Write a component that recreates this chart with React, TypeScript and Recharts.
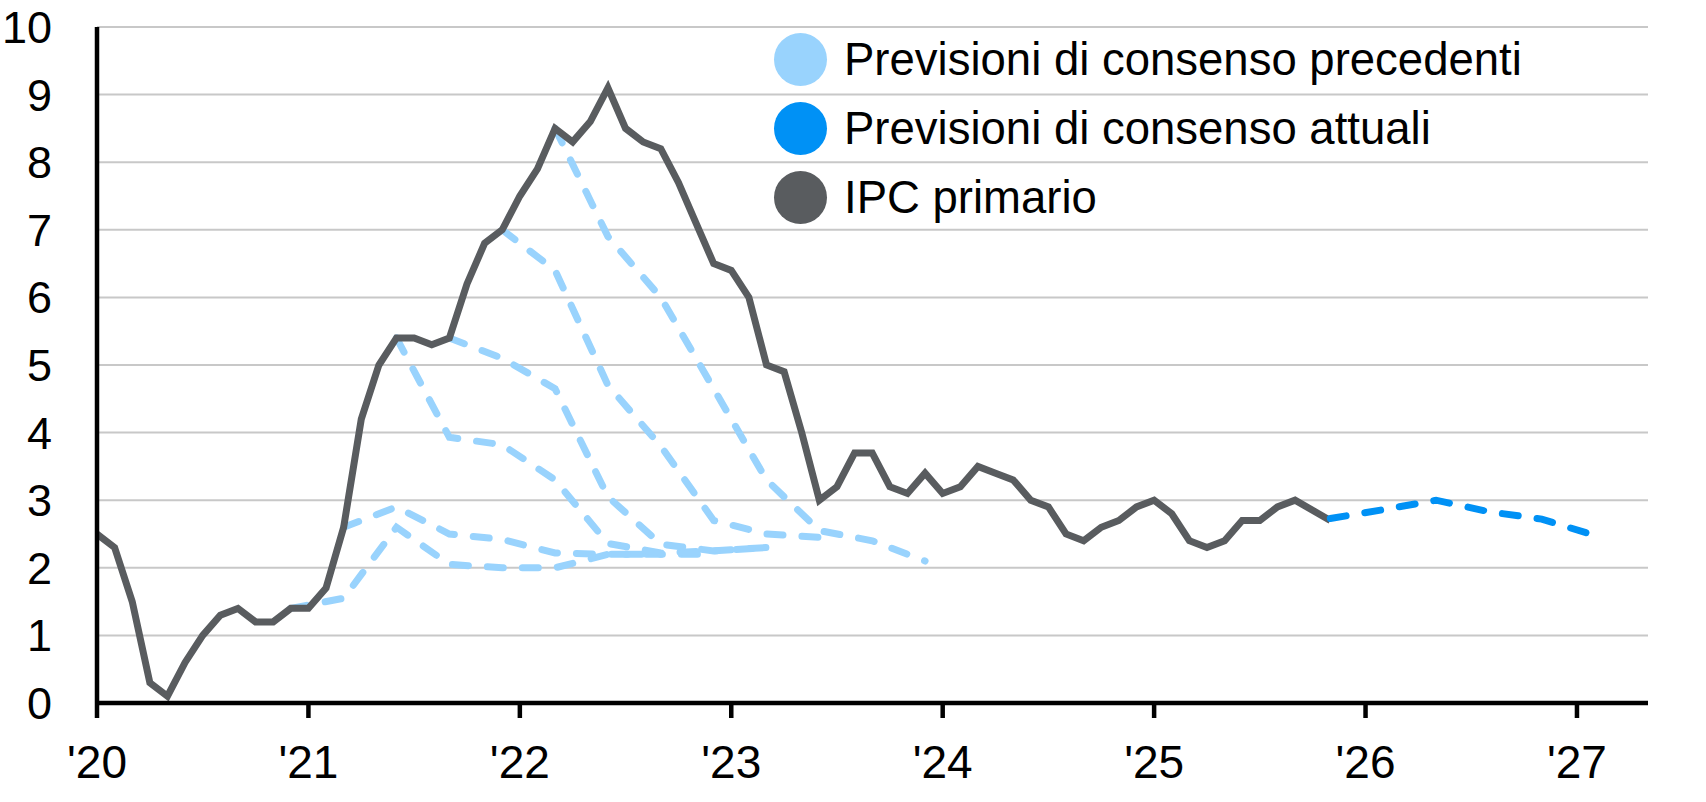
import React from "react";
import { LineChart, Line, XAxis, YAxis, CartesianGrid, Legend } from "recharts";

// IPC primario, var. % annua, mensile da gen 2020 a nov 2025 (ott 2025 non pubblicato)
const ipcStart = 2020;
const ipcPrimario: (number | null)[] = [
  2.5, 2.3, 1.5, 0.3, 0.1, 0.6, 1.0, 1.3, 1.4, 1.2, 1.2, 1.4,
  1.4, 1.7, 2.6, 4.2, 5.0, 5.4, 5.4, 5.3, 5.4, 6.2, 6.8, 7.0,
  7.5, 7.9, 8.5, 8.3, 8.6, 9.1, 8.5, 8.3, 8.2, 7.7, 7.1, 6.5,
  6.4, 6.0, 5.0, 4.9, 4.0, 3.0, 3.2, 3.7, 3.7, 3.2, 3.1, 3.4,
  3.1, 3.2, 3.5, 3.4, 3.3, 3.0, 2.9, 2.5, 2.4, 2.6, 2.7, 2.9,
  3.0, 2.8, 2.4, 2.3, 2.4, 2.7, 2.7, 2.9, 3.0, null, 2.7,
];

// previsioni di consenso precedenti (trimestrali), [mese, valore]
const prevDic20: [string, number][] = [
  ["2020-12", 1.4], ["2021-03", 1.55], ["2021-06", 2.6], ["2021-09", 2.05],
  ["2021-12", 2.0], ["2022-03", 2.0], ["2022-06", 2.2], ["2022-09", 2.2],
];
const prevMar21: [string, number][] = [
  ["2021-03", 2.6], ["2021-06", 2.9], ["2021-09", 2.5], ["2021-12", 2.42],
  ["2022-03", 2.22], ["2022-06", 2.2], ["2022-09", 2.2], ["2022-12", 2.2],
];
const prevGiu21: [string, number][] = [
  ["2021-06", 5.4], ["2021-09", 3.93], ["2021-12", 3.82], ["2022-03", 3.3],
  ["2022-06", 2.36], ["2022-09", 2.22], ["2022-12", 2.25], ["2023-03", 2.3],
];
const prevSet21: [string, number][] = [
  ["2021-09", 5.4], ["2021-12", 5.1], ["2022-03", 4.65], ["2022-06", 3.05],
  ["2022-09", 2.35], ["2022-12", 2.25], ["2023-03", 2.3],
];
const prevDic21: [string, number][] = [
  ["2021-12", 7.0], ["2022-03", 6.4], ["2022-06", 4.7], ["2022-09", 3.8],
  ["2022-12", 2.7], ["2023-03", 2.5], ["2023-06", 2.45],
];
const prevMar22: [string, number][] = [
  ["2022-03", 8.5], ["2022-06", 6.9], ["2022-09", 6.0], ["2022-12", 4.65],
  ["2023-03", 3.3], ["2023-06", 2.55], ["2023-09", 2.4], ["2023-12", 2.1],
];
const previsioniPrecedenti = [prevDic20, prevMar21, prevGiu21, prevSet21, prevDic21, prevMar22];

// previsioni di consenso attuali
const previsioniAttuali: [string, number][] = [
  ["2025-11", 2.73], ["2026-02", 2.86], ["2026-05", 3.0],
  ["2026-08", 2.83], ["2026-11", 2.72], ["2027-02", 2.48],
];

const yearTicks = [2020, 2021, 2022, 2023, 2024, 2025, 2026, 2027];
const valueTicks = [0, 1, 2, 3, 4, 5, 6, 7, 8, 9, 10];

const legendItems = [
  { label: "Previsioni di consenso precedenti", color: "#99D3FD" },
  { label: "Previsioni di consenso attuali", color: "#0091F5" },
  { label: "IPC primario", color: "#595C5F" },
];

const FONT = "'Liberation Sans', Arial, sans-serif";
const LIGHT = "#99D3FD";
const BLUE = "#0091F5";
const GREY = "#595C5F";

const toT = (m: string) => {
  const [y, mm] = m.split("-").map(Number);
  return y + (mm - 1) / 12;
};
const toSeries = (rows: [string, number][]) => rows.map(([m, v]) => ({ t: toT(m), v }));

const ipcData = ipcPrimario.map((v, i) => ({ t: ipcStart + i / 12, v }));

const renderLegend = () => (
  <div style={{ fontFamily: FONT }}>
    {legendItems.map((it) => (
      <div key={it.label} style={{ display: "flex", alignItems: "center", height: 69 }}>
        <span
          style={{
            width: 53,
            height: 53,
            borderRadius: "50%",
            background: it.color,
            display: "inline-block",
            marginRight: 17,
          }}
        />
        <span style={{ fontSize: 45.5, color: "#000", lineHeight: "53px" }}>{it.label}</span>
      </div>
    ))}
  </div>
);

export default function App() {
  return (
    <div style={{ position: "absolute", left: 0, top: 0, background: "#fff" }}>
      <LineChart width={1706} height={802} margin={{ top: 27, right: 58, bottom: 39, left: 0 }}>
        <CartesianGrid vertical={false} stroke="#C8C8C8" strokeWidth={2} />
        <XAxis
          type="number"
          dataKey="t"
          domain={[2020, 2027.336]}
          ticks={yearTicks}
          allowDataOverflow
          tickFormatter={(v) => `'${String(v).slice(2)}`}
          axisLine={{ stroke: "#000", strokeWidth: 4.5 }}
          tickLine={{ stroke: "#000", strokeWidth: 4.5 }}
          tickSize={15}
          tickMargin={27}
          height={60}
          tick={{ fill: "#000", fontSize: 46, fontFamily: FONT }}
        />
        <YAxis
          type="number"
          domain={[0, 10]}
          ticks={valueTicks}
          width={97}
          axisLine={{ stroke: "#000", strokeWidth: 4.5 }}
          tickLine={false}
          tickSize={0}
          tickMargin={45}
          tick={{ fill: "#000", fontSize: 45, fontFamily: FONT }}
        />
        <Legend
          layout="vertical"
          align="center"
          verticalAlign="middle"
          content={renderLegend}
          wrapperStyle={{ left: 774, top: 25, width: 860 }}
        />
        {previsioniPrecedenti.map((rows, i) => (
          <Line
            key={`prev-${i}`}
            data={toSeries(rows)}
            dataKey="v"
            type="linear"
            stroke={LIGHT}
            strokeWidth={7}
            strokeDasharray="16 19"
            strokeLinecap="round"
            dot={false}
            activeDot={false}
            legendType="none"
            isAnimationActive={false}
          />
        ))}
        <Line
          data={ipcData}
          dataKey="v"
          type="linear"
          stroke={GREY}
          strokeWidth={7}
          connectNulls
          dot={false}
          activeDot={false}
          isAnimationActive={false}
        />
        <Line
          data={toSeries(previsioniAttuali)}
          dataKey="v"
          type="linear"
          stroke={BLUE}
          strokeWidth={7}
          strokeDasharray="16 19"
          strokeLinecap="round"
          dot={false}
          activeDot={false}
          isAnimationActive={false}
        />
      </LineChart>
    </div>
  );
}
